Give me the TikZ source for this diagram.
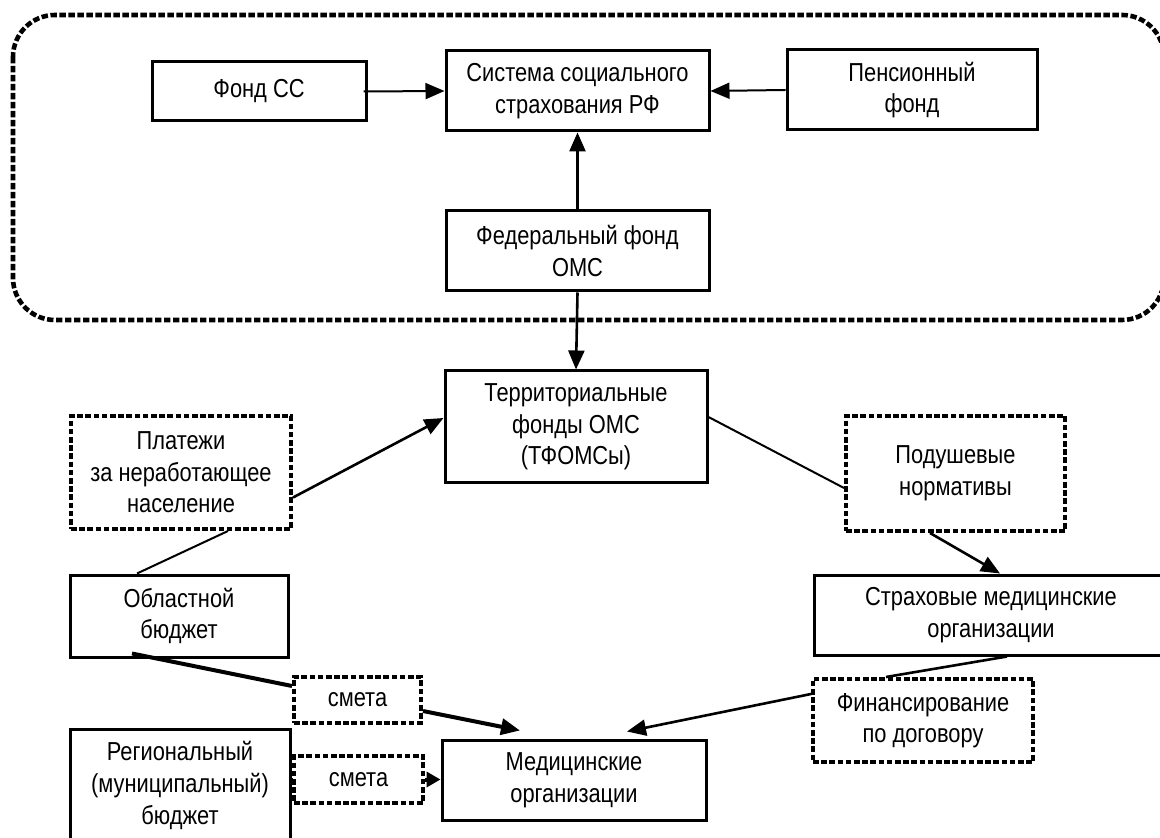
\documentclass[tikz,border=0pt]{standalone}
\usepackage{fontspec}
\setmainfont{Liberation Sans}[FakeStretch=0.84]
\usetikzlibrary{arrows.meta,calc}
\begin{document}
\begin{tikzpicture}[x=0.5pt,y=-0.5pt,
  every node/.style={font=\fontsize{13pt}{15.8pt}\selectfont},
  box/.style={draw, line width=1.5pt, align=center, inner sep=0pt},
  dotbox/.style={draw, line width=2pt, dash pattern=on 2.8pt off 1.3pt, align=center, inner sep=0pt},
  wh/.style 2 args={minimum width=#1*0.5pt, minimum height=#2*0.5pt},
  thin/.style={line width=1pt},
  mid/.style={line width=1.3pt},
  thick2/.style={line width=2pt},
  tip/.style={-{Triangle[length=9.5pt,width=8pt]}},
  border/.style={line width=2.3pt, dash pattern=on 3.2pt off 1.3pt, rounded corners=21pt}
]
\useasboundingbox (0,0) rectangle (1160,838);
\clip (0,0) rectangle (1160,838);
\fill[white] (0,0) rectangle (1160,838);

\draw[border] (13,15) rectangle (1164,320);

\node[box, wh={214}{59}] (fss) at (259,91.5) {Фонд СС};
\node[box, wh={263}{80}] (sys) at (577.5,91) {Система социального\\страхования РФ};
\node[box, wh={250}{80}] (pens) at (912,90) {Пенсионный\\фонд};
\node[box, wh={263}{80}] (fed) at (577.5,251) {Федеральный фонд\\ОМС};
\node[box, wh={262}{112}] (terr) at (576,427) {Территориальные\\фонды ОМС\\(ТФОМСы)};
\node[dotbox, wh={220}{113}] (plat) at (181,472.5) {Платежи\\за неработающее\\население};
\node[box, wh={218}{82}] (obl) at (179,616) {Областной\\бюджет};
\node[dotbox, wh={127}{46}] (sm1) at (357.5,700) {смета};
\node[box, wh={220}{113}] (reg) at (180,785.5) {Региональный\\(муниципальный)\\бюджет};
\node[dotbox, wh={129}{47}] (sm2) at (358.5,779.5) {смета};
\node[box, wh={264}{80}] (med) at (574,780) {Медицинские\\организации};
\node[dotbox, wh={219}{115}] (pod) at (955.5,473.5) {Подушевые\\нормативы};
\node[box, wh={354}{80}] (str) at (991,615) {Страховые медицинские\\организации};
\node[dotbox, wh={220}{83}] (fin) at (923,720.5) {Финансирование\\по договору};

% connectors
\draw[thin, tip] ([xshift=-2pt]fss.east) -- (sys.west);
\draw[thin, tip] (pens.west) -- (sys.east);
\draw[mid, tip] (fed.north) -- (sys.south);
\draw[mid, tip] (fed.south) -- (terr.north);
\draw[mid, tip] ([yshift=-12.5pt]plat.east) -- ([yshift=4.5pt]terr.west);
\draw[thin] ([xshift=-21pt]obl.north) -- ([xshift=23.5pt]plat.south);
\draw[thin] ([yshift=5pt]terr.east) -- ([yshift=-7.25pt]pod.west);
\draw[mid, tip] ([xshift=-12.75pt]pod.south) -- ([xshift=4.5pt]str.north);
\draw[mid] ([xshift=8pt]str.south) -- ([xshift=-18.5pt]fin.north);
\draw[mid, tip] ([yshift=13.25pt]fin.west) -- ([xshift=26.5pt,yshift=3.5pt]med.north);
\draw[thick2] ([xshift=-23.5pt,yshift=2.5pt]obl.south) -- ([yshift=7pt]sm1.west);
\draw[thick2, tip] ([yshift=-5.5pt]sm1.east) -- ([xshift=-27pt,yshift=4pt]med.north);
\draw[thick2] (reg.east |- sm2.west) -- (sm2.west);
\draw[thick2, -{Triangle[length=7pt,width=7.5pt]}] (sm2.east) -- (med.west |- sm2.east);
\end{tikzpicture}
\end{document}
